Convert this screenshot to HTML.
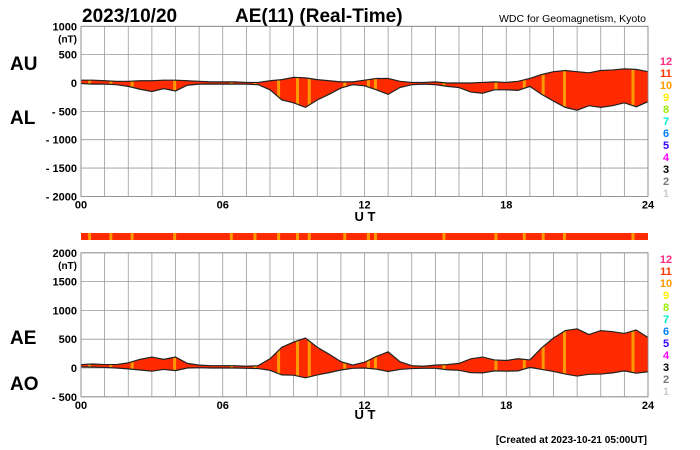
<!DOCTYPE html>
<html><head><meta charset="utf-8"><style>
body{margin:0;background:#fff;}
svg{display:block;font-family:"Liberation Sans",sans-serif;}
</style></head><body>
<svg id="c" width="700" height="450" viewBox="0 0 700 450">
<text x="82" y="22" font-size="19" font-weight="bold">2023/10/20</text>
<text x="235" y="22" font-size="19" font-weight="bold">AE(11) (Real-Time)</text>
<text x="646" y="22" font-size="10.5" text-anchor="end">WDC for Geomagnetism, Kyoto</text>
<text x="10" y="70" font-size="19" font-weight="bold">AU</text>
<text x="10" y="124" font-size="19" font-weight="bold">AL</text>
<text x="10" y="344" font-size="19" font-weight="bold">AE</text>
<text x="10" y="390" font-size="19" font-weight="bold">AO</text>
<text x="365" y="221" font-size="13" font-weight="bold" text-anchor="middle">U T</text>
<text x="365" y="419" font-size="13" font-weight="bold" text-anchor="middle">U T</text>
<text x="647" y="443" font-size="10" font-weight="bold" text-anchor="end">[Created at 2023-10-21 05:00UT]</text>
<g id="g"></g>
</svg>
<script>
const hours=[0,0.5,1,1.5,2,2.5,3,3.5,4,4.5,5,5.5,6,6.5,7,7.5,8,8.5,9,9.5,10,10.5,11,11.5,12,12.5,13,13.5,14,14.5,15,15.5,16,16.5,17,17.5,18,18.5,19,19.5,20,20.5,21,21.5,22,22.5,23,23.5,24];
const au=[50,50,40,30,30,40,40,50,50,40,30,20,20,20,10,10,40,60,100,90,60,40,20,20,50,80,80,30,10,10,20,0,0,0,10,20,10,30,80,150,200,220,200,180,220,230,250,240,200];
const al=[-10,-20,-20,-30,-60,-110,-150,-100,-140,-40,-20,-20,-20,-20,-20,-30,-120,-300,-350,-430,-300,-200,-90,-30,-50,-120,-200,-80,-30,-20,-30,-60,-80,-160,-180,-120,-120,-130,-60,-200,-320,-430,-480,-400,-430,-400,-350,-420,-330];
const orangeHours=[0.3,1.2,2.1,3.9,6.3,7.3,8.3,9.1,9.6,11.1,12.1,12.4,15.3,17.5,18.7,19.5,20.4,23.3];
const topTicks=[1000,500,0,-500,-1000,-1500,-2000];
const botTicks=[2000,1500,1000,500,0,-500];
const xTicks=[0,6,12,18,24];
const xTickLabels=["00","06","12","18","24"];
const levelLabels=["12","11","10","9","8","7","6","5","4","3","2","1"];
const levelColors=["#ff2a80","#ff3300","#ff9900","#ffee00","#99ee00","#00eecc","#0080ff","#3300ff","#ff00ff","#000","#777","#ccc"];

const NS="http://www.w3.org/2000/svg",G=document.getElementById('g');
const X0=81,X1=648;
const x=h=>X0+(X1-X0)*h/24;
const yTop=v=>83-v*0.0567;
const yBot=v=>368-v*0.0576;
function mk(t,a,p){const e=document.createElementNS(NS,t);for(const k in a)e.setAttribute(k,a[k]);(p||G).appendChild(e);return e;}
function panel(yf,ticks,top,bot,lo,hi,name,getHi,getLo){
  const cid='clip'+name;
  const cp=mk('clipPath',{id:cid});mk('rect',{x:X0,y:top,width:X1-X0,height:bot-top},cp);
  for(let h=0;h<=24;h++){const l=mk('line',{x1:x(h),x2:x(h),y1:top,y2:bot,stroke:'#999','stroke-width':0.8});
    }
  ticks.forEach(t=>{const l=mk('line',{x1:X0,x2:X1,y1:yf(t),y2:yf(t),stroke:'#999','stroke-width':0.8});
    
    const tx=mk('text',{x:X0-4,y:yf(t)+4,'font-size':11,'font-weight':'bold','text-anchor':'end'});
    tx.textContent=t<0?'- '+(-t):String(t);
    });
  const u=mk('text',{x:X0-4,y:yf(ticks[0])+16,'font-size':10,'font-weight':'bold','text-anchor':'end'});u.textContent='(nT)';
  
  let pts=hours.map((h,i)=>x(h)+','+yf(getHi(i)));
  let pts2=hours.map((h,i)=>x(h)+','+yf(getLo(i))).reverse();
  const area=mk('polygon',{points:pts.concat(pts2).join(' '),fill:'#ff2a00'});
  
  const og=mk('g',{});
  const cp2=mk('clipPath',{id:cid+'a'});mk('polygon',{points:pts.concat(pts2).join(' ')},cp2);
  og.setAttribute('clip-path','url(#'+cid+'a)');
  orangeHours.forEach(h=>{const r=mk('rect',{x:x(h),y:top,width:3,height:bot-top,fill:'#ff9900'},og);
    });
  const l1=mk('polyline',{points:pts.join(' '),fill:'none',stroke:'#222','stroke-width':1.2});
  
  const l2=mk('polyline',{points:pts2.join(' '),fill:'none',stroke:'#222','stroke-width':1.2});
  
  const b=mk('rect',{x:X0,y:top,width:X1-X0,height:bot-top,fill:'none',stroke:'#888','stroke-width':0.8});
  
  xTicks.forEach((h,i)=>{const t=mk('text',{x:x(h),y:bot+12,'font-size':11,'font-weight':'bold','text-anchor':'middle'});t.textContent=xTickLabels[i];
    });
  levelLabels.forEach((s,i)=>{const t=mk('text',{x:666,y:lo+i*(hi-lo)/11,'font-size':11,'font-weight':'bold','text-anchor':'middle',fill:levelColors[i]});t.textContent=s;
    });
}
panel(yTop,topTicks,yTop(1000),yTop(-2000),65,197,'top',i=>au[i],i=>al[i]);
panel(yBot,botTicks,yBot(2000),yBot(-500),263,395,'bottom',i=>au[i]-al[i],i=>(au[i]+al[i])/2);
const bar=mk('rect',{x:X0,y:233,width:X1-X0,height:7,fill:'#ff2a00'});

orangeHours.forEach(h=>{const r=mk('rect',{x:x(h),y:233,width:3,height:7,fill:'#ff9900'});
  });
</script>
</body></html>
